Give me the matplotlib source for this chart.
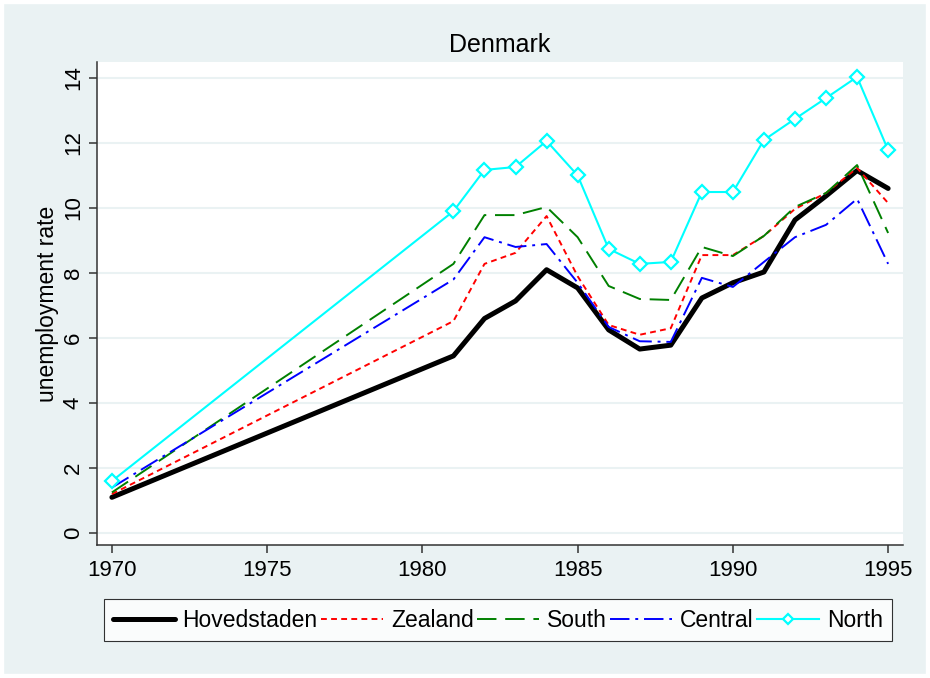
import matplotlib.pyplot as plt
from matplotlib.patches import Rectangle

plt.rcParams['font.family'] = ['Liberation Sans', 'DejaVu Sans']

years = [1970, 1981, 1982, 1983, 1984, 1985, 1986, 1987, 1988,
         1989, 1990, 1991, 1992, 1993, 1994, 1995]

hovedstaden = [1.1, 5.45, 6.6, 7.14, 8.1, 7.54, 6.25, 5.66, 5.78,
               7.23, 7.7, 8.03, 9.63, 10.37, 11.15, 10.6]
zealand = [1.2, 6.52, 8.28, 8.62, 9.75, 7.9, 6.4, 6.1, 6.3,
           8.55, 8.55, 9.14, 9.97, 10.46, 11.23, 10.15]
south = [1.25, 8.28, 9.78, 9.78, 10.03, 9.1, 7.6, 7.2, 7.17,
         8.8, 8.52, 9.14, 10.03, 10.46, 11.32, 9.23]
central = [1.4, 7.8, 9.1, 8.8, 8.89, 7.7, 6.34, 5.9, 5.88,
           7.85, 7.57, 8.34, 9.1, 9.48, 10.28, 8.28]
north = [1.6, 9.9, 11.17, 11.26, 12.06, 11.0, 8.74, 8.28, 8.34,
         10.49, 10.49, 12.09, 12.74, 13.38, 14.03, 11.78]

bg = '#EAF2F3'
fig = plt.figure(figsize=(9.3, 6.78), dpi=100, facecolor=bg)
fig.patches.append(Rectangle((0, 0), 1, 1, transform=fig.transFigure,
                             fill=False, edgecolor='white', linewidth=6))
ax = fig.add_axes([0.1043, 0.196, 0.8667, 0.7126])

ax.plot(years, hovedstaden, color='black', linewidth=3.6,
        solid_capstyle='round', solid_joinstyle='round', label='Hovedstaden')
ax.plot(years, zealand, color='red', linewidth=1.4,
        dashes=(3, 2.2), label='Zealand')
ax.plot(years, south, color='#008000', linewidth=1.4,
        dashes=(10, 4.5), label='South')
ax.plot(years, central, color='blue', linewidth=1.4,
        dashes=(10, 3, 1.5, 3), label='Central')
ax.plot(years, north, color='cyan', linewidth=1.5, marker='D',
        markersize=7, markerfacecolor='white', markeredgecolor='cyan',
        markeredgewidth=1.6, label='North')

ax.set_xlim(1969.52, 1995.48)
ax.set_ylim(-0.37, 14.49)
ax.set_xticks([1970, 1975, 1980, 1985, 1990, 1995])
ax.set_yticks(range(0, 15, 2))
ax.tick_params(axis='both', labelsize=16, length=6, width=1.1,
               color='#333333', direction='out')
ax.tick_params(axis='x', pad=5)
for lab in ax.get_yticklabels():
    lab.set_rotation(90)
    lab.set_va('center')
ax.grid(axis='y', color=bg, linewidth=1.5)
ax.set_axisbelow(True)
for s in ['top', 'right']:
    ax.spines[s].set_visible(False)
for s in ['left', 'bottom']:
    ax.spines[s].set_color('#333333')
    ax.spines[s].set_linewidth(1.1)

ax.set_ylabel('unemployment rate', fontsize=16.5, labelpad=3)
fig.text(0.537, 0.933, 'Denmark', ha='center', va='center', fontsize=18)

leg = fig.legend(loc='center', bbox_to_anchor=(0.5355, 0.0855), ncol=5,
                 fontsize=16.5, frameon=True, fancybox=False, edgecolor='black',
                 handlelength=2.7, handletextpad=0.35, columnspacing=0.15,
                 borderpad=0.4, borderaxespad=0, numpoints=1)
leg.get_frame().set_linewidth(0.8)
leg.legend_handles[4].set_markersize(5.5)

fig.savefig('out.png', dpi=100, facecolor=bg)
